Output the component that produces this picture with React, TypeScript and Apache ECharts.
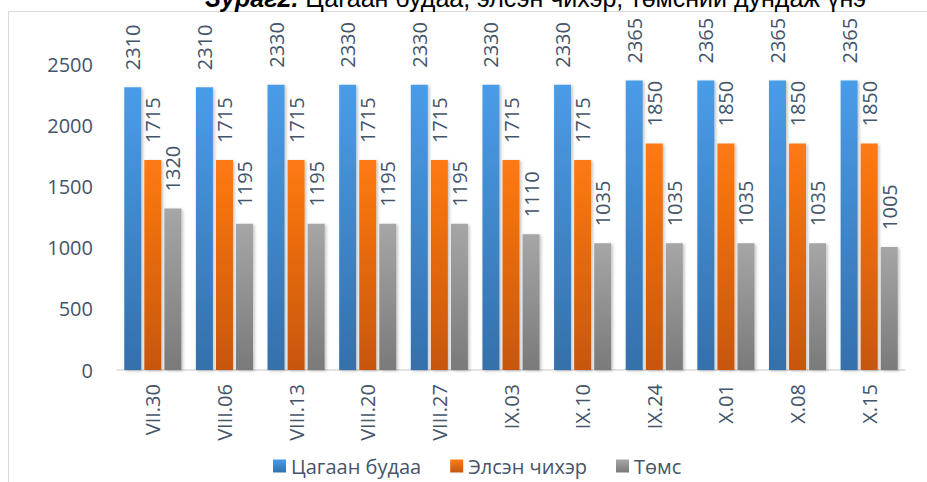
import React, { useEffect, useRef } from "react";
import * as echarts from "echarts";

const categories = ["VII.30", "VIII.06", "VIII.13", "VIII.20", "VIII.27", "IX.03", "IX.10", "IX.24", "X.01", "X.08", "X.15"];
const rice = [2310, 2310, 2330, 2330, 2330, 2330, 2330, 2365, 2365, 2365, 2365];
const sugar = [1715, 1715, 1715, 1715, 1715, 1715, 1715, 1850, 1850, 1850, 1850];
const potato = [1320, 1195, 1195, 1195, 1195, 1110, 1035, 1035, 1035, 1035, 1005];
const seriesNames = ["Цагаан будаа", "Элсэн чихэр", "Төмс"];
const titleBold = "Зураг2.";
const titleRest = " Цагаан будаа, элсэн чихэр, төмсний дундаж үнэ";

const FONT = "'Open Sans', sans-serif";
const TXT = "#44546A";

function grad(top: string, bottom: string) {
  return new echarts.graphic.LinearGradient(0, 0, 0, 1, [
    { offset: 0, color: top },
    { offset: 1, color: bottom },
  ]);
}

export default function App() {
  const ref = useRef<HTMLDivElement>(null);
  useEffect(() => {
    const chart = echarts.init(ref.current!, undefined, { renderer: "svg" });
    const label = {
      show: true,
      position: "top" as const,
      rotate: 90,
      align: "left" as const,
      verticalAlign: "middle" as const,
      distance: 17,
      fontFamily: FONT,
      fontSize: 20,
      color: TXT,
    };
    const mk = (name: string, data: number[], top: string, bottom: string) => ({
      name,
      type: "bar" as const,
      data,
      barWidth: 17,
      barGap: "18%",
      itemStyle: {
        color: grad(top, bottom),
        shadowColor: "rgba(0,0,0,0.25)",
        shadowBlur: 3,
        shadowOffsetX: 1.5,
        shadowOffsetY: 1,
      },
      label,
    });
    chart.setOption({
      animation: false,
      textStyle: { fontFamily: FONT },
      graphic: [
        {
          type: "rect",
          shape: { x: 8.5, y: 11.5, width: 1000, height: 1000 },
          style: { fill: "none", stroke: "#d9d9d9", lineWidth: 1 },
          z: -10,
        },
        {
          type: "text",
          x: 205,
          y: 10,
          style: {
            text: "{b|" + titleBold + "}{n|" + titleRest + "}",
            verticalAlign: "bottom",
            rich: {
              b: { fontFamily: "'Liberation Sans', Arial, sans-serif", fontSize: 25, fontWeight: "bold", fontStyle: "italic", fill: "#000" },
              n: { fontFamily: "'Liberation Sans', Arial, sans-serif", fontSize: 25, fill: "#000" },
            },
          },
        },
      ],
      legend: {
        bottom: 1,
        left: 268,
        itemWidth: 13,
        itemHeight: 13,
        itemGap: 29,
        icon: "rect",
        textStyle: { fontFamily: FONT, fontSize: 20, color: TXT },
        data: seriesNames,
      },
      grid: { left: 117, right: 22, top: 64, bottom: 112 },
      xAxis: {
        type: "category",
        data: categories,
        axisLine: { lineStyle: { color: "#d9d9d9", width: 1.5 } },
        axisTick: { show: false },
        axisLabel: { rotate: 90, margin: 14, fontFamily: FONT, fontSize: 20, color: TXT },
      },
      yAxis: {
        type: "value",
        min: 0,
        max: 2500,
        interval: 500,
        axisLine: { show: false },
        axisTick: { show: false },
        splitLine: { show: false },
        axisLabel: { margin: 24, fontFamily: FONT, fontSize: 20, color: TXT, formatter: (v: number) => String(v) },
      },
      series: [
        mk(seriesNames[0], rice, "#4a9ce8", "#3470ab"),
        mk(seriesNames[1], sugar, "#ff7a12", "#c7560d"),
        mk(seriesNames[2], potato, "#a6a6a6", "#7a7a7a"),
      ],
    });
    return () => chart.dispose();
  }, []);
  return (
    <div
      ref={ref}
      style={{ position: "absolute", left: 0, top: 0, width: 927, height: 482, background: "#fff" }}
    />
  );
}
